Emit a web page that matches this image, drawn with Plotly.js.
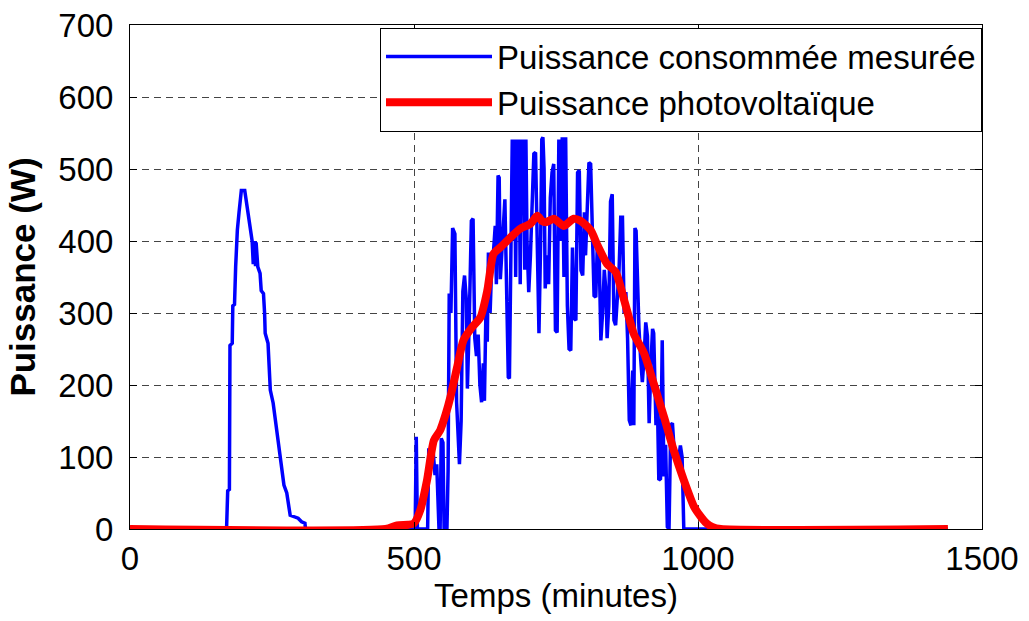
<!DOCTYPE html>
<html>
<head>
<meta charset="utf-8">
<script src="https://cdn.plot.ly/plotly-3.0.1.min.js"></script>
<style>html,body{margin:0;padding:0;background:#fff;}#chart{width:1029px;height:621px;}</style>
</head>
<body>
<div id="chart"></div>
<script>
// Measured consumed power (W) vs time (minutes)
const consoMinutes = [0,170,172,175,176,180,181,184,186,189,192,196,202,205,209,212,215,217,219,220,221,222,225,229,231,235,237,238,243,245,247,252,257,261,265,268,271,276,279,282,296,302,308,309,
502,504,506,524,526,528,531,534,537,540,544,546,548,551,553,558,560,562,565,568,572,575,580,583,586,589,592,594,597,601,604,607,610,613,616,619,622,624,627,629,631,634,637,640,643,645,648,650,652,655,658,660,663,666,668,670,673,675,677,679,681,683,685,687,689,691,693,695,697,699,702,705,708,711,714,717,720,723,725,727,729,731,734,737,740,743,746,749,752,755,758,761,764,767,770,773,776,779,782,785,788,791,794,797,800,802,805,808,811,814,817,820,823,826,829,832,835,838,840,843,846,849,852,855,858,861,864,867,870,873,876,879,882,885,887,889,891,893,896,899,902,905,908,911,914,917,920,922,926,928,931,934,937,940,943,946,949,952,955,958,963,966,969,972,975,1440];
const consoWatts = [0,0,53,55,255,258,310,312,364,415,440,470,470,452,431,412,400,368,395,400,365,398,364,355,331,327,299,272,258,218,193,175,147,119,100,79,61,50,36,19,15,10,8,0,
0,128,0,0,112,100,95,105,75,90,0,0,126,120,0,0,80,327,300,418,410,176,90,150,330,352,320,195,280,428,431,265,240,270,200,176,230,178,320,260,384,300,370,386,421,340,491,488,347,400,430,458,347,211,209,380,541,400,541,350,541,420,541,340,541,450,541,360,541,400,329,380,450,521,523,400,272,400,541,544,500,334,380,340,460,495,507,276,273,541,400,544,350,544,310,250,248,391,292,290,495,498,359,352,440,380,452,509,507,420,324,322,400,380,262,300,360,330,265,310,455,465,290,283,330,360,433,433,300,329,265,151,144,220,144,418,414,339,280,237,204,237,287,268,147,227,278,272,144,200,68,70,262,73,117,3,0,144,147,110,105,98,116,100,0,0];

// Photovoltaic power (W) vs time (minutes)
const pvMinutes = [0,450,470,490,500,511,523,535,546,556,564,576,587,602,617,629,640,652,670,687,705,717,725,732,746,764,781,793,811,823,840,855,870,887,905,922,940,957,975,993,1005,1015,1025,1040,1440];
const pvWatts = [0,0,5,6,8,26,68,123,137,160,183,225,262,280,294,331,382,391,405,417,424,435,428,426,431,421,431,428,415,394,368,357,318,271,244,202,156,110,68,31,17,8,3,0,0];

const seriesNames = ['Puissance consommée mesurée', 'Puissance photovoltaïque'];
const xTicks = [0, 500, 1000, 1500];
const yTicks = [0, 100, 200, 300, 400, 500, 600, 700];

const FONT = 'Liberation Sans, Arial, sans-serif';

const traces = [
  {x: consoMinutes, y: consoWatts, type: 'scatter', mode: 'lines', name: seriesNames[0],
   line: {color: '#0000ff', width: 3.5}},
  {x: pvMinutes, y: pvWatts, type: 'scatter', mode: 'lines', name: seriesNames[1],
   line: {color: '#ff0000', width: 8, shape: 'spline', smoothing: 0.6}}
];

const axisCommon = {
  showline: true, linecolor: '#000', linewidth: 1, mirror: 'ticks',
  ticks: 'inside', ticklen: 7, tickcolor: '#000', tickwidth: 1,
  showgrid: true, gridcolor: '#444', gridwidth: 1, griddash: '7px,5px',
  zeroline: false, tickfont: {family: FONT, size: 33, color: '#000'}
};

const layout = {
  width: 1029, height: 621,
  margin: {l: 130, r: 47, t: 25, b: 92},
  paper_bgcolor: '#fff', plot_bgcolor: '#fff',
  font: {family: FONT, color: '#000'},
  showlegend: true,
  legend: {x: 1, y: 0.995, xanchor: 'right', yanchor: 'top',
           bgcolor: '#fff', bordercolor: '#000', borderwidth: 1,
           font: {family: FONT, size: 33, color: '#000'}, itemwidth: 106,
           entrywidth: 500, entrywidthmode: 'pixels',
           tracegroupgap: 0},
  xaxis: Object.assign({}, axisCommon, {
    range: [0, 1500], tickvals: xTicks, ticktext: xTicks.map(String),
    title: {text: 'Temps (minutes)', font: {family: FONT, size: 33, color: '#000'}, standoff: 4}
  }),
  yaxis: Object.assign({}, axisCommon, {
    range: [0, 700], tickvals: yTicks, ticktext: yTicks.map(String), ticklabelstandoff: 9,
    title: {text: 'Puissance (W)', font: {family: FONT, size: 35, color: '#000', weight: 'bold'}, standoff: 12}
  })
};

Plotly.newPlot('chart', traces, layout, {displayModeBar: false, staticPlot: true});
</script>
</body>
</html>
